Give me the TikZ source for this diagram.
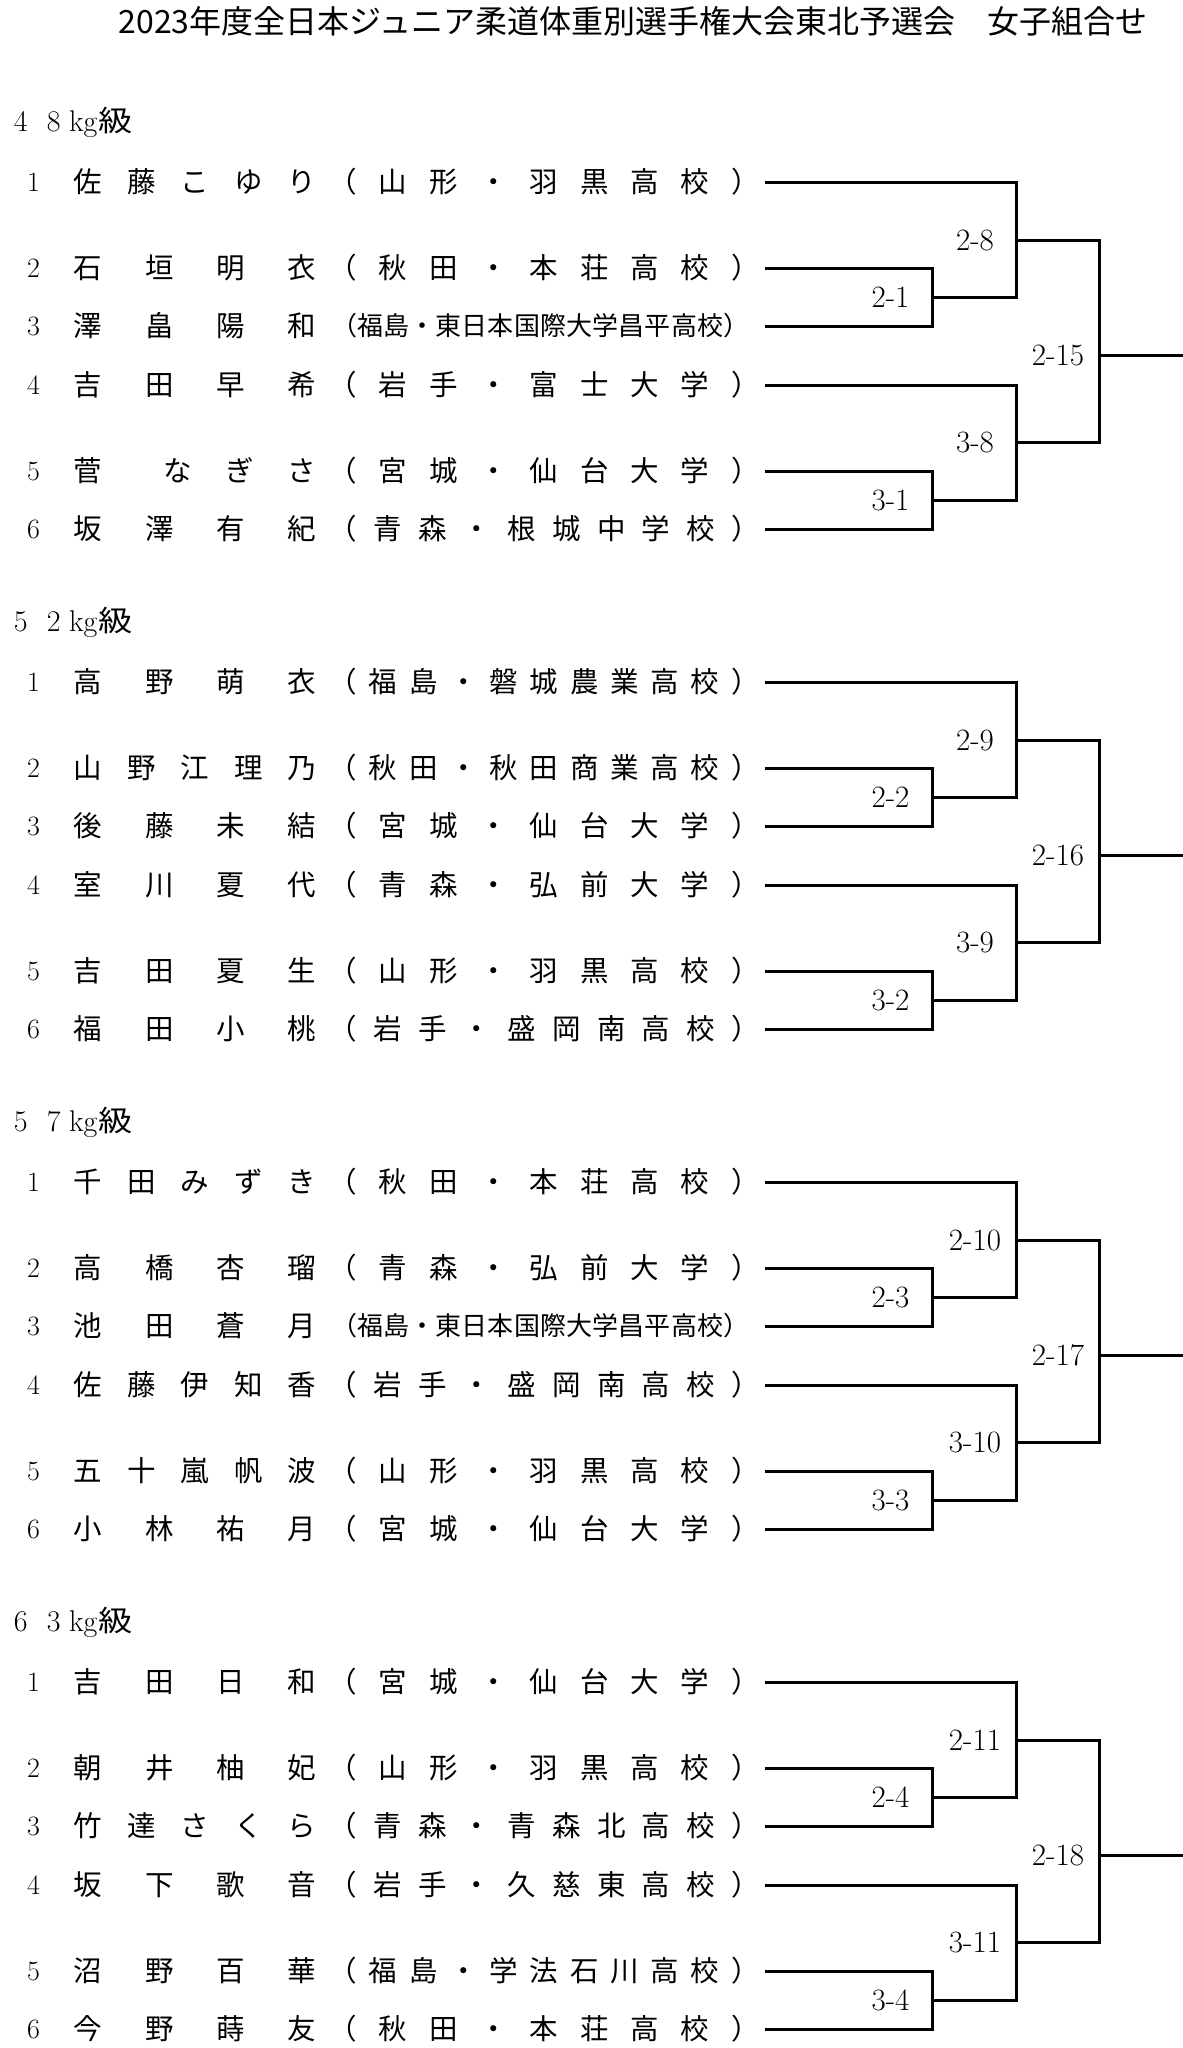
\documentclass[tikz,border=0pt]{standalone}
\usepackage{fontspec}
\newfontfamily\jp{Noto Sans CJK JP}
\let\endspr\relax
\def\spr#1{\sprA#1\endspr}
\def\sprA#1{\ifx#1\endspr\else#1\expandafter\sprB\fi}
\def\sprB#1{\ifx#1\endspr\else\hfil#1\expandafter\sprB\fi}
\tikzset{
  bline/.style={line width=3pt, line join=miter},
  numf/.style={inner sep=0pt, font=\fontsize{28pt}{28pt}\selectfont},
  namef/.style={inner sep=0pt, anchor=west, font=\jp\fontsize{28.5pt}{30pt}\selectfont},
  afcf/.style={inner sep=0pt, anchor=west, font=\jp\fontsize{26pt}{28pt}\selectfont},
  lab/.style={inner sep=0pt, font=\fontsize{31pt}{31pt}\selectfont},
  ttl/.style={inner sep=0pt, font=\jp\fontsize{32pt}{34pt}\selectfont},
  hdr/.style={inner sep=0pt, anchor=base west, font=\fontsize{30pt}{30pt}\selectfont}
}
% one entry: #1 id, #2 y, #3 number, #4 name, #5 affiliation
\newcommand\entry[5]{%
  \node[numf] (#1n) at (33.5,#2) {#3};
  \node[namef] (#1m) at (73.75,#2-0.6) {\makebox[242.5pt][s]{\spr{#4}}};
  \node[namef] (#1a) at (328.45,#2-0.6) {\makebox[431.1pt][s]{\spr{#5}}};
}
% entry with the long (condensed) affiliation
\newcommand\entryC[4]{%
  \node[numf] (#1n) at (33.5,#2) {#3};
  \node[namef] (#1m) at (73.75,#2-0.6) {\makebox[242.5pt][s]{\spr{#4}}};
  \node[afcf] (#1a) at (330.85,#2-0.6) {\makebox[418.3pt][s]{\spr{（福島・東日本国際大学昌平高校）}}};
}
% bracket: #1 prefix, #2..#6 labels
\newcommand\brk[6]{%
  \coordinate (#1p1) at (765,182.3);
  \coordinate (#1p2) at (765,268.3);
  \coordinate (#1p3) at (765,326.7);
  \coordinate (#1p4) at (765,385);
  \coordinate (#1p5) at (765,471.7);
  \coordinate (#1p6) at (765,529.3);
  \coordinate (#1j1) at (932.3,297.5);
  \coordinate (#1j2) at (1016,240);
  \coordinate (#1j3) at (1099,355.7);
  \coordinate (#1j4) at (1016,442.7);
  \coordinate (#1j5) at (932.3,500.5);
  \coordinate (#1e) at (1183,355.7);
  \draw[bline] (#1p2) -| (#1j1) |- (#1p3);
  \draw[bline] (#1p1) -| (#1j2) |- (#1j1);
  \draw[bline] (#1p5) -| (#1j5) |- (#1p6);
  \draw[bline] (#1p4) -| (#1j4) |- (#1j5);
  \draw[bline] (#1j2) -| (#1j3) |- (#1j4);
  \draw[bline] (#1j3) -- (#1e);
  \node[lab] (#1l1) at (890.5,297.5) {#2};
  \node[lab] (#1l2) at (975,240) {#3};
  \node[lab] (#1l3) at (1058,355.7) {#4};
  \node[lab] (#1l4) at (975,442.7) {#5};
  \node[lab] (#1l5) at (890.5,500.5) {#6};
}
\newcommand\hdrtext[2]{\makebox[33pt]{#1}\makebox[33pt]{#2}\hspace{-1pt}kg\hspace{1pt}{\jp\fontsize{29pt}{29pt}\selectfont\scalebox{1.18}[1]{級}}}
\begin{document}
\begin{tikzpicture}[x=1pt,y=-1pt]
\useasboundingbox (0,0) rectangle (1183,2048);
\fill[white] (0,0) rectangle (1183,2048);
\node[ttl] (title) at (633,21.8) {2023年度全日本ジュニア柔道体重別選手権大会東北予選会　女子組合せ};

% 48kg
\begin{scope}
  \node[hdr] (h1) at (4,131.7) {\hdrtext{4}{8}};
  \entry{a1}{182.3}{1}{佐藤こゆり}{（山形・羽黒高校）}
  \entry{a2}{268.3}{2}{石垣明衣}{（秋田・本荘高校）}
  \entryC{a3}{326.7}{3}{澤畠陽和}
  \entry{a4}{385}{4}{吉田早希}{（岩手・富士大学）}
  \node[numf] (a5n) at (33.5,471.7) {5};
  \node[namef] (a5m) at (73.75,471.1) {\makebox[242.5pt][l]{菅\hspace{61.25pt}な\hspace{33.5pt}ぎ\hspace{33.5pt}さ}};
  \node[namef] (a5a) at (328.45,471.1) {\makebox[431.1pt][s]{\spr{（宮城・仙台大学）}}};
  \entry{a6}{529.3}{6}{坂澤有紀}{（青森・根城中学校）}
  \brk{a}{2-1}{2-8}{2-15}{3-8}{3-1}
\end{scope}

% 52kg
\begin{scope}[shift={(0,500)}]
  \node[hdr] (h2) at (4,131.7) {\hdrtext{5}{2}};
  \entry{b1}{182.3}{1}{高野萌衣}{（福島・磐城農業高校）}
  \entry{b2}{268.3}{2}{山野江理乃}{（秋田・秋田商業高校）}
  \entry{b3}{326.7}{3}{後藤未結}{（宮城・仙台大学）}
  \entry{b4}{385}{4}{室川夏代}{（青森・弘前大学）}
  \entry{b5}{471.7}{5}{吉田夏生}{（山形・羽黒高校）}
  \entry{b6}{529.3}{6}{福田小桃}{（岩手・盛岡南高校）}
  \brk{b}{2-2}{2-9}{2-16}{3-9}{3-2}
\end{scope}

% 57kg
\begin{scope}[shift={(0,1000)}]
  \node[hdr] (h3) at (4,131.7) {\hdrtext{5}{7}};
  \entry{c1}{182.3}{1}{千田みずき}{（秋田・本荘高校）}
  \entry{c2}{268.3}{2}{高橋杏瑠}{（青森・弘前大学）}
  \entryC{c3}{326.7}{3}{池田蒼月}
  \entry{c4}{385}{4}{佐藤伊知香}{（岩手・盛岡南高校）}
  \entry{c5}{471.7}{5}{五十嵐帆波}{（山形・羽黒高校）}
  \entry{c6}{529.3}{6}{小林祐月}{（宮城・仙台大学）}
  \brk{c}{2-3}{2-10}{2-17}{3-10}{3-3}
\end{scope}

% 63kg
\begin{scope}[shift={(0,1500)}]
  \node[hdr] (h4) at (4,131.7) {\hdrtext{6}{3}};
  \entry{d1}{182.3}{1}{吉田日和}{（宮城・仙台大学）}
  \entry{d2}{268.3}{2}{朝井柚妃}{（山形・羽黒高校）}
  \entry{d3}{326.7}{3}{竹達さくら}{（青森・青森北高校）}
  \entry{d4}{385}{4}{坂下歌音}{（岩手・久慈東高校）}
  \entry{d5}{471.7}{5}{沼野百華}{（福島・学法石川高校）}
  \entry{d6}{529.3}{6}{今野蒔友}{（秋田・本荘高校）}
  \brk{d}{2-4}{2-11}{2-18}{3-11}{3-4}
\end{scope}
\end{tikzpicture}
\end{document}
